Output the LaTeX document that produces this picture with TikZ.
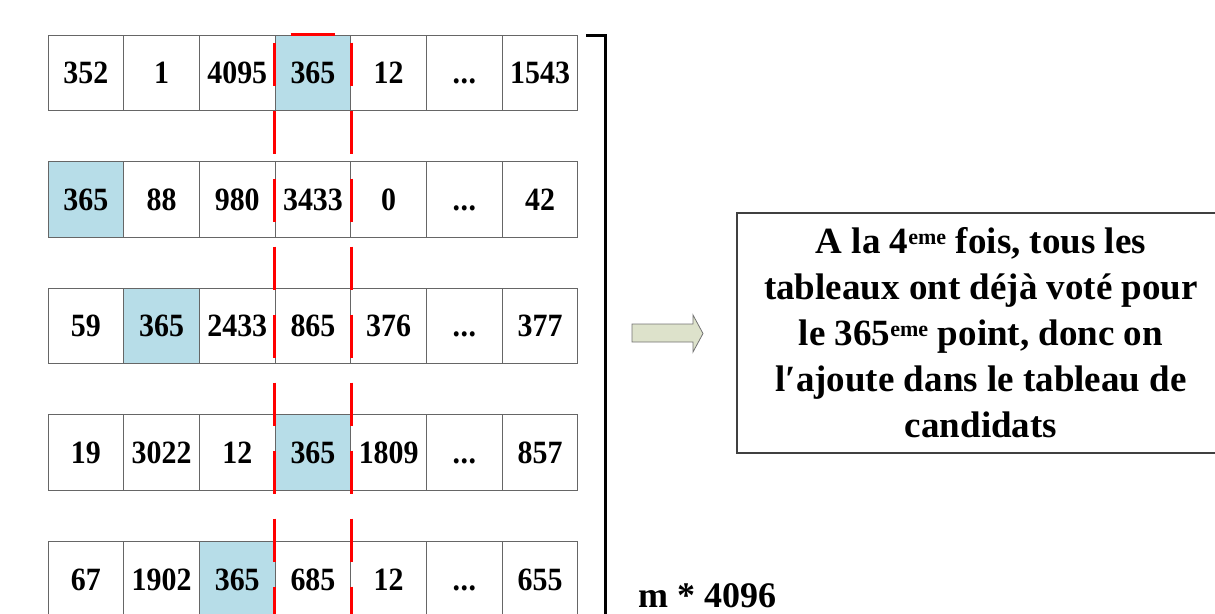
\documentclass[tikz,border=0pt]{standalone}
\usepackage{fontspec}
\setmainfont{Liberation Serif}
\newfontfamily\cellfont[FakeStretch=0.92]{Liberation Serif}
\definecolor{hl}{HTML}{B7DDE8}
\definecolor{arrowfill}{HTML}{DDE2CB}
\newcommand\dts{.\kern0.5pt.\kern0.5pt.}
\begin{document}
\begin{tikzpicture}[x=1pt,y=-1pt,
  cell/.style={draw=black!60, line width=1pt, minimum width=75.7pt, minimum height=75.5pt,
    inner sep=0pt, text height=22pt, text depth=0pt,
    font=\cellfont\fontsize{32.5}{38}\selectfont\bfseries},
  reddash/.style={draw=red, line width=3pt, dash pattern=on 43pt off 25pt, dash phase=60pt},
  redtop/.style={draw=red, line width=3pt, dash pattern=on 44pt off 32pt, dash phase=60pt},
  bracket/.style={draw=black, line width=3pt},
  blockarrow/.style={fill=arrowfill, draw=black!55, line width=0.8pt},
  textbox/.style={draw=black!75, line width=1.3pt, minimum width=488pt, minimum height=240pt,
    inner sep=0pt, align=center, font=\fontsize{37}{46}\selectfont\bfseries},
  biglabel/.style={font=\fontsize{36}{40}\selectfont\bfseries, inner sep=0pt}]
\useasboundingbox (0,0) rectangle (1215,613);
\foreach \r/\h/\vals in {1/4/{352,1,4095,365,12,\dts,1543},
                         2/1/{365,88,980,3433,0,\dts,42},
                         3/2/{59,365,2433,865,376,\dts,377},
                         4/4/{19,3022,12,365,1809,\dts,857},
                         5/3/{67,1902,365,685,12,\dts,655}} {
  \foreach \v [count=\c] in \vals {
    \ifnum\c=\h\relax \def\fc{hl}\else\def\fc{white}\fi
    \node[cell, fill=\fc] (r\r c\c) at ({48+75.7*(\c-0.5)}, {72.75+126.6*(\r-1)}) {\v};
  }
}
% red dashed frame around the column
\draw[redtop] (r1c4.north west) -- (r1c4.north east);
\draw[reddash] (r1c4.north west) -- ++(0,610);
\draw[reddash] (r1c4.north east) -- ++(0,610);
% bracket
\draw[bracket] (586,35) -- (605,35) -- (605,640);
% block arrow
\draw[blockarrow] (632,324) -- (693,324) -- (693,315) -- (703,333.5) -- (693,352) -- (693,342) -- (632,342) -- cycle;
% text box
\node[textbox] (box) at (981,333) {A la 4\textsuperscript{\fontsize{22}{22}\selectfont eme} fois, tous les\\
tableaux ont déjà voté pour\\
le 365\textsuperscript{\fontsize{22}{22}\selectfont eme} point, donc on\\
l′ajoute dans le tableau de\\
candidats};
\node[biglabel, anchor=base west] (m) at (638,607) {m * 4096};
\end{tikzpicture}
\end{document}
